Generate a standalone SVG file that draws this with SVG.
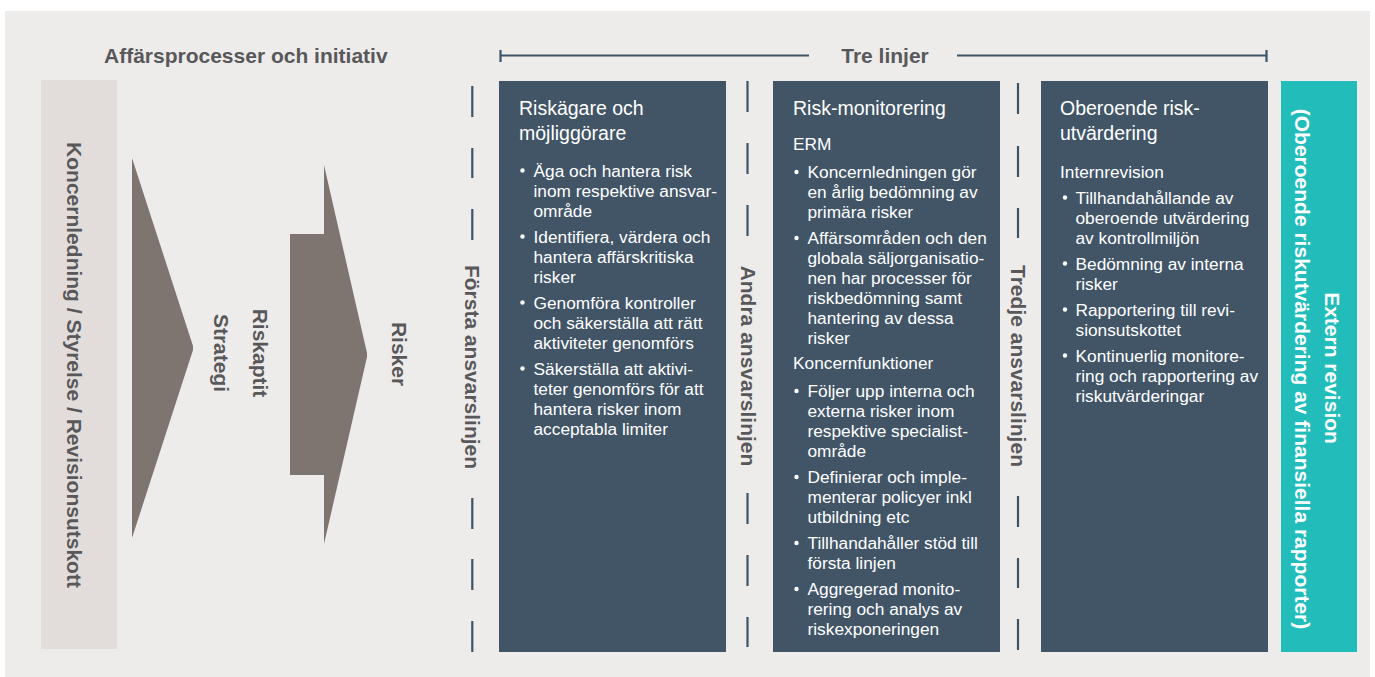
<svg xmlns="http://www.w3.org/2000/svg" width="1375" height="677" viewBox="0 0 1375 677">
<style>
.hd{font-family:"Liberation Sans",Arial,sans-serif;font-weight:bold;font-size:21px;fill:#58585A}
.lbl{font-family:"Liberation Sans",Arial,sans-serif;font-weight:bold;font-size:21px;fill:#58585A;text-anchor:middle}
.wl{font-family:"Liberation Sans",Arial,sans-serif;font-weight:bold;font-size:21px;fill:#FFFFFF;text-anchor:middle}
.ttl{font-family:"Liberation Sans",Arial,sans-serif;font-size:19.5px;fill:#FFFFFF}
.bd{font-family:"Liberation Sans",Arial,sans-serif;font-size:17.3px;fill:#FFFFFF}
.box{fill:#415567}
.dash{stroke:#3D5468;stroke-width:2.2;fill:none}
.arr{fill:#7E7470}
.dot{fill:#FFFFFF}
</style>
<rect x="5" y="11" width="1365" height="666" fill="#EEECEA"/>

<g id="header-left">
<text class="hd" x="104" y="63.3">Affärsprocesser och initiativ</text>
</g>
<g id="header-right">
<line class="dash" x1="500.5" y1="55.5" x2="809" y2="55.5"/>
<line class="dash" x1="957" y1="55.5" x2="1266.5" y2="55.5"/>
<line class="dash" x1="500.5" y1="50" x2="500.5" y2="62"/>
<line class="dash" x1="1266.5" y1="50" x2="1266.5" y2="62"/>
<text class="lbl" x="885" y="63">Tre linjer</text>
</g>

<g id="left-bar">
<rect x="41" y="80" width="76" height="569" fill="#E2DDDA"/>
<text class="lbl" transform="translate(74.5,365) rotate(90)" x="0" y="7.5">Koncernledning / Styrelse / Revisionsutskott</text>
</g>

<g id="arrow-strategy">
<polygon class="arr" points="132,158 193,346 193,350 132,538"/>
<text class="lbl" transform="translate(260.5,353) rotate(90)" x="0" y="7.5">Riskaptit</text>
<text class="lbl" transform="translate(221.5,353) rotate(90)" x="0" y="7.5">Strategi</text>
</g>

<g id="arrow-risks">
<polygon class="arr" points="290,234 324,234 324,165 367,353 367,357 324,544 324,475 290,475"/>
<text class="lbl" transform="translate(399,354) rotate(90)" x="0" y="7.5">Risker</text>
</g>

<g id="connectors">
<g id="line1">
<line class="dash" x1="472.3" y1="86" x2="472.3" y2="117"/>
<line class="dash" x1="472.3" y1="148" x2="472.3" y2="178"/>
<line class="dash" x1="472.3" y1="209" x2="472.3" y2="240"/>
<line class="dash" x1="472.3" y1="498" x2="472.3" y2="529"/>
<line class="dash" x1="472.3" y1="559" x2="472.3" y2="590"/>
<line class="dash" x1="472.3" y1="621" x2="472.3" y2="652"/>
</g>
<g id="line2">
<line class="dash" x1="747.5" y1="81" x2="747.5" y2="112"/>
<line class="dash" x1="747.5" y1="143" x2="747.5" y2="174"/>
<line class="dash" x1="747.5" y1="205" x2="747.5" y2="236"/>
<line class="dash" x1="747.5" y1="493" x2="747.5" y2="524"/>
<line class="dash" x1="747.5" y1="555" x2="747.5" y2="586"/>
<line class="dash" x1="747.5" y1="617" x2="747.5" y2="647"/>
</g>
<g id="line3">
<line class="dash" x1="1018" y1="83" x2="1018" y2="114"/>
<line class="dash" x1="1018" y1="146" x2="1018" y2="177"/>
<line class="dash" x1="1018" y1="208" x2="1018" y2="238"/>
<line class="dash" x1="1018" y1="496" x2="1018" y2="527"/>
<line class="dash" x1="1018" y1="558" x2="1018" y2="588"/>
<line class="dash" x1="1018" y1="619" x2="1018" y2="650"/>
</g>
</g>

<g id="label-line1">
<text class="lbl" transform="translate(472.5,367) rotate(90)" x="0" y="7.5">Första ansvarslinjen</text>
</g>
<g id="label-line2">
<text class="lbl" transform="translate(748,366) rotate(90)" x="0" y="7.5">Andra ansvarslinjen</text>
</g>
<g id="label-line3">
<text class="lbl" transform="translate(1018,366) rotate(90)" x="0" y="7.5">Tredje ansvarslinjen</text>
</g>

<g id="box1">
<rect class="box" x="499" y="81" width="227" height="571"/>
<text class="ttl" x="519" y="115">Riskägare och</text>
<text class="ttl" x="519" y="140">möjliggörare</text>
<circle class="dot" cx="522.5" cy="170.5" r="2.2"/>
<text class="bd" x="533.5" y="176.5">Äga och hantera risk</text>
<text class="bd" x="533.5" y="196.5">inom respektive ansvar-</text>
<text class="bd" x="533.5" y="216.5">område</text>
<circle class="dot" cx="522.5" cy="236.5" r="2.2"/>
<text class="bd" x="533.5" y="242.5">Identifiera, värdera och</text>
<text class="bd" x="533.5" y="262.5">hantera affärskritiska</text>
<text class="bd" x="533.5" y="282.5">risker</text>
<circle class="dot" cx="522.5" cy="302.5" r="2.2"/>
<text class="bd" x="533.5" y="308.5">Genomföra kontroller</text>
<text class="bd" x="533.5" y="328.5">och säkerställa att rätt</text>
<text class="bd" x="533.5" y="348.5">aktiviteter genomförs</text>
<circle class="dot" cx="522.5" cy="368.5" r="2.2"/>
<text class="bd" x="533.5" y="374.5">Säkerställa att aktivi-</text>
<text class="bd" x="533.5" y="394.5">teter genomförs för att</text>
<text class="bd" x="533.5" y="414.5">hantera risker inom</text>
<text class="bd" x="533.5" y="434.5">acceptabla limiter</text>
</g>

<g id="box2">
<rect class="box" x="773" y="81" width="227" height="571"/>
<text class="ttl" x="793" y="115">Risk-monitorering</text>
<text class="bd" x="793" y="150">ERM</text>
<circle class="dot" cx="796.5" cy="172" r="2.2"/>
<text class="bd" x="807.5" y="178">Koncernledningen gör</text>
<text class="bd" x="807.5" y="198">en årlig bedömning av</text>
<text class="bd" x="807.5" y="218">primära risker</text>
<circle class="dot" cx="796.5" cy="238" r="2.2"/>
<text class="bd" x="807.5" y="244">Affärsområden och den</text>
<text class="bd" x="807.5" y="264">globala säljorganisatio-</text>
<text class="bd" x="807.5" y="284">nen har processer för</text>
<text class="bd" x="807.5" y="304">riskbedömning samt</text>
<text class="bd" x="807.5" y="324">hantering av dessa</text>
<text class="bd" x="807.5" y="344">risker</text>
<text class="bd" x="793" y="369">Koncernfunktioner</text>
<circle class="dot" cx="796.5" cy="391" r="2.2"/>
<text class="bd" x="807.5" y="397">Följer upp interna och</text>
<text class="bd" x="807.5" y="417">externa risker inom</text>
<text class="bd" x="807.5" y="437">respektive specialist-</text>
<text class="bd" x="807.5" y="457">område</text>
<circle class="dot" cx="796.5" cy="477" r="2.2"/>
<text class="bd" x="807.5" y="483">Definierar och imple-</text>
<text class="bd" x="807.5" y="503">menterar policyer inkl</text>
<text class="bd" x="807.5" y="523">utbildning etc</text>
<circle class="dot" cx="796.5" cy="543" r="2.2"/>
<text class="bd" x="807.5" y="549">Tillhandahåller stöd till</text>
<text class="bd" x="807.5" y="569">första linjen</text>
<circle class="dot" cx="796.5" cy="589" r="2.2"/>
<text class="bd" x="807.5" y="595">Aggregerad monito-</text>
<text class="bd" x="807.5" y="615">rering och analys av</text>
<text class="bd" x="807.5" y="635">riskexponeringen</text>
</g>

<g id="box3">
<rect class="box" x="1041" y="81" width="227" height="571"/>
<text class="ttl" x="1060" y="115">Oberoende risk-</text>
<text class="ttl" x="1060" y="140">utvärdering</text>
<text class="bd" x="1060" y="178">Internrevision</text>
<circle class="dot" cx="1065" cy="197.5" r="2.2"/>
<text class="bd" x="1075.5" y="203.5">Tillhandahållande av</text>
<text class="bd" x="1075.5" y="223.5">oberoende utvärdering</text>
<text class="bd" x="1075.5" y="243.5">av kontrollmiljön</text>
<circle class="dot" cx="1065" cy="263.5" r="2.2"/>
<text class="bd" x="1075.5" y="269.5">Bedömning av interna</text>
<text class="bd" x="1075.5" y="289.5">risker</text>
<circle class="dot" cx="1065" cy="309.5" r="2.2"/>
<text class="bd" x="1075.5" y="315.5">Rapportering till revi-</text>
<text class="bd" x="1075.5" y="335.5">sionsutskottet</text>
<circle class="dot" cx="1065" cy="355.5" r="2.2"/>
<text class="bd" x="1075.5" y="361.5">Kontinuerlig monitore-</text>
<text class="bd" x="1075.5" y="381.5">ring och rapportering av</text>
<text class="bd" x="1075.5" y="401.5">riskutvärderingar</text>
</g>

<g id="external">
<rect x="1281" y="81" width="76" height="571" fill="#22BDBA"/>
<text class="wl" transform="translate(1332.5,368) rotate(90)" x="0" y="7.5">Extern revision</text>
<text class="wl" transform="translate(1302.5,369) rotate(90)" x="0" y="7.5">(Oberoende riskutvärdering av finansiella rapporter)</text>
</g>
</svg>
